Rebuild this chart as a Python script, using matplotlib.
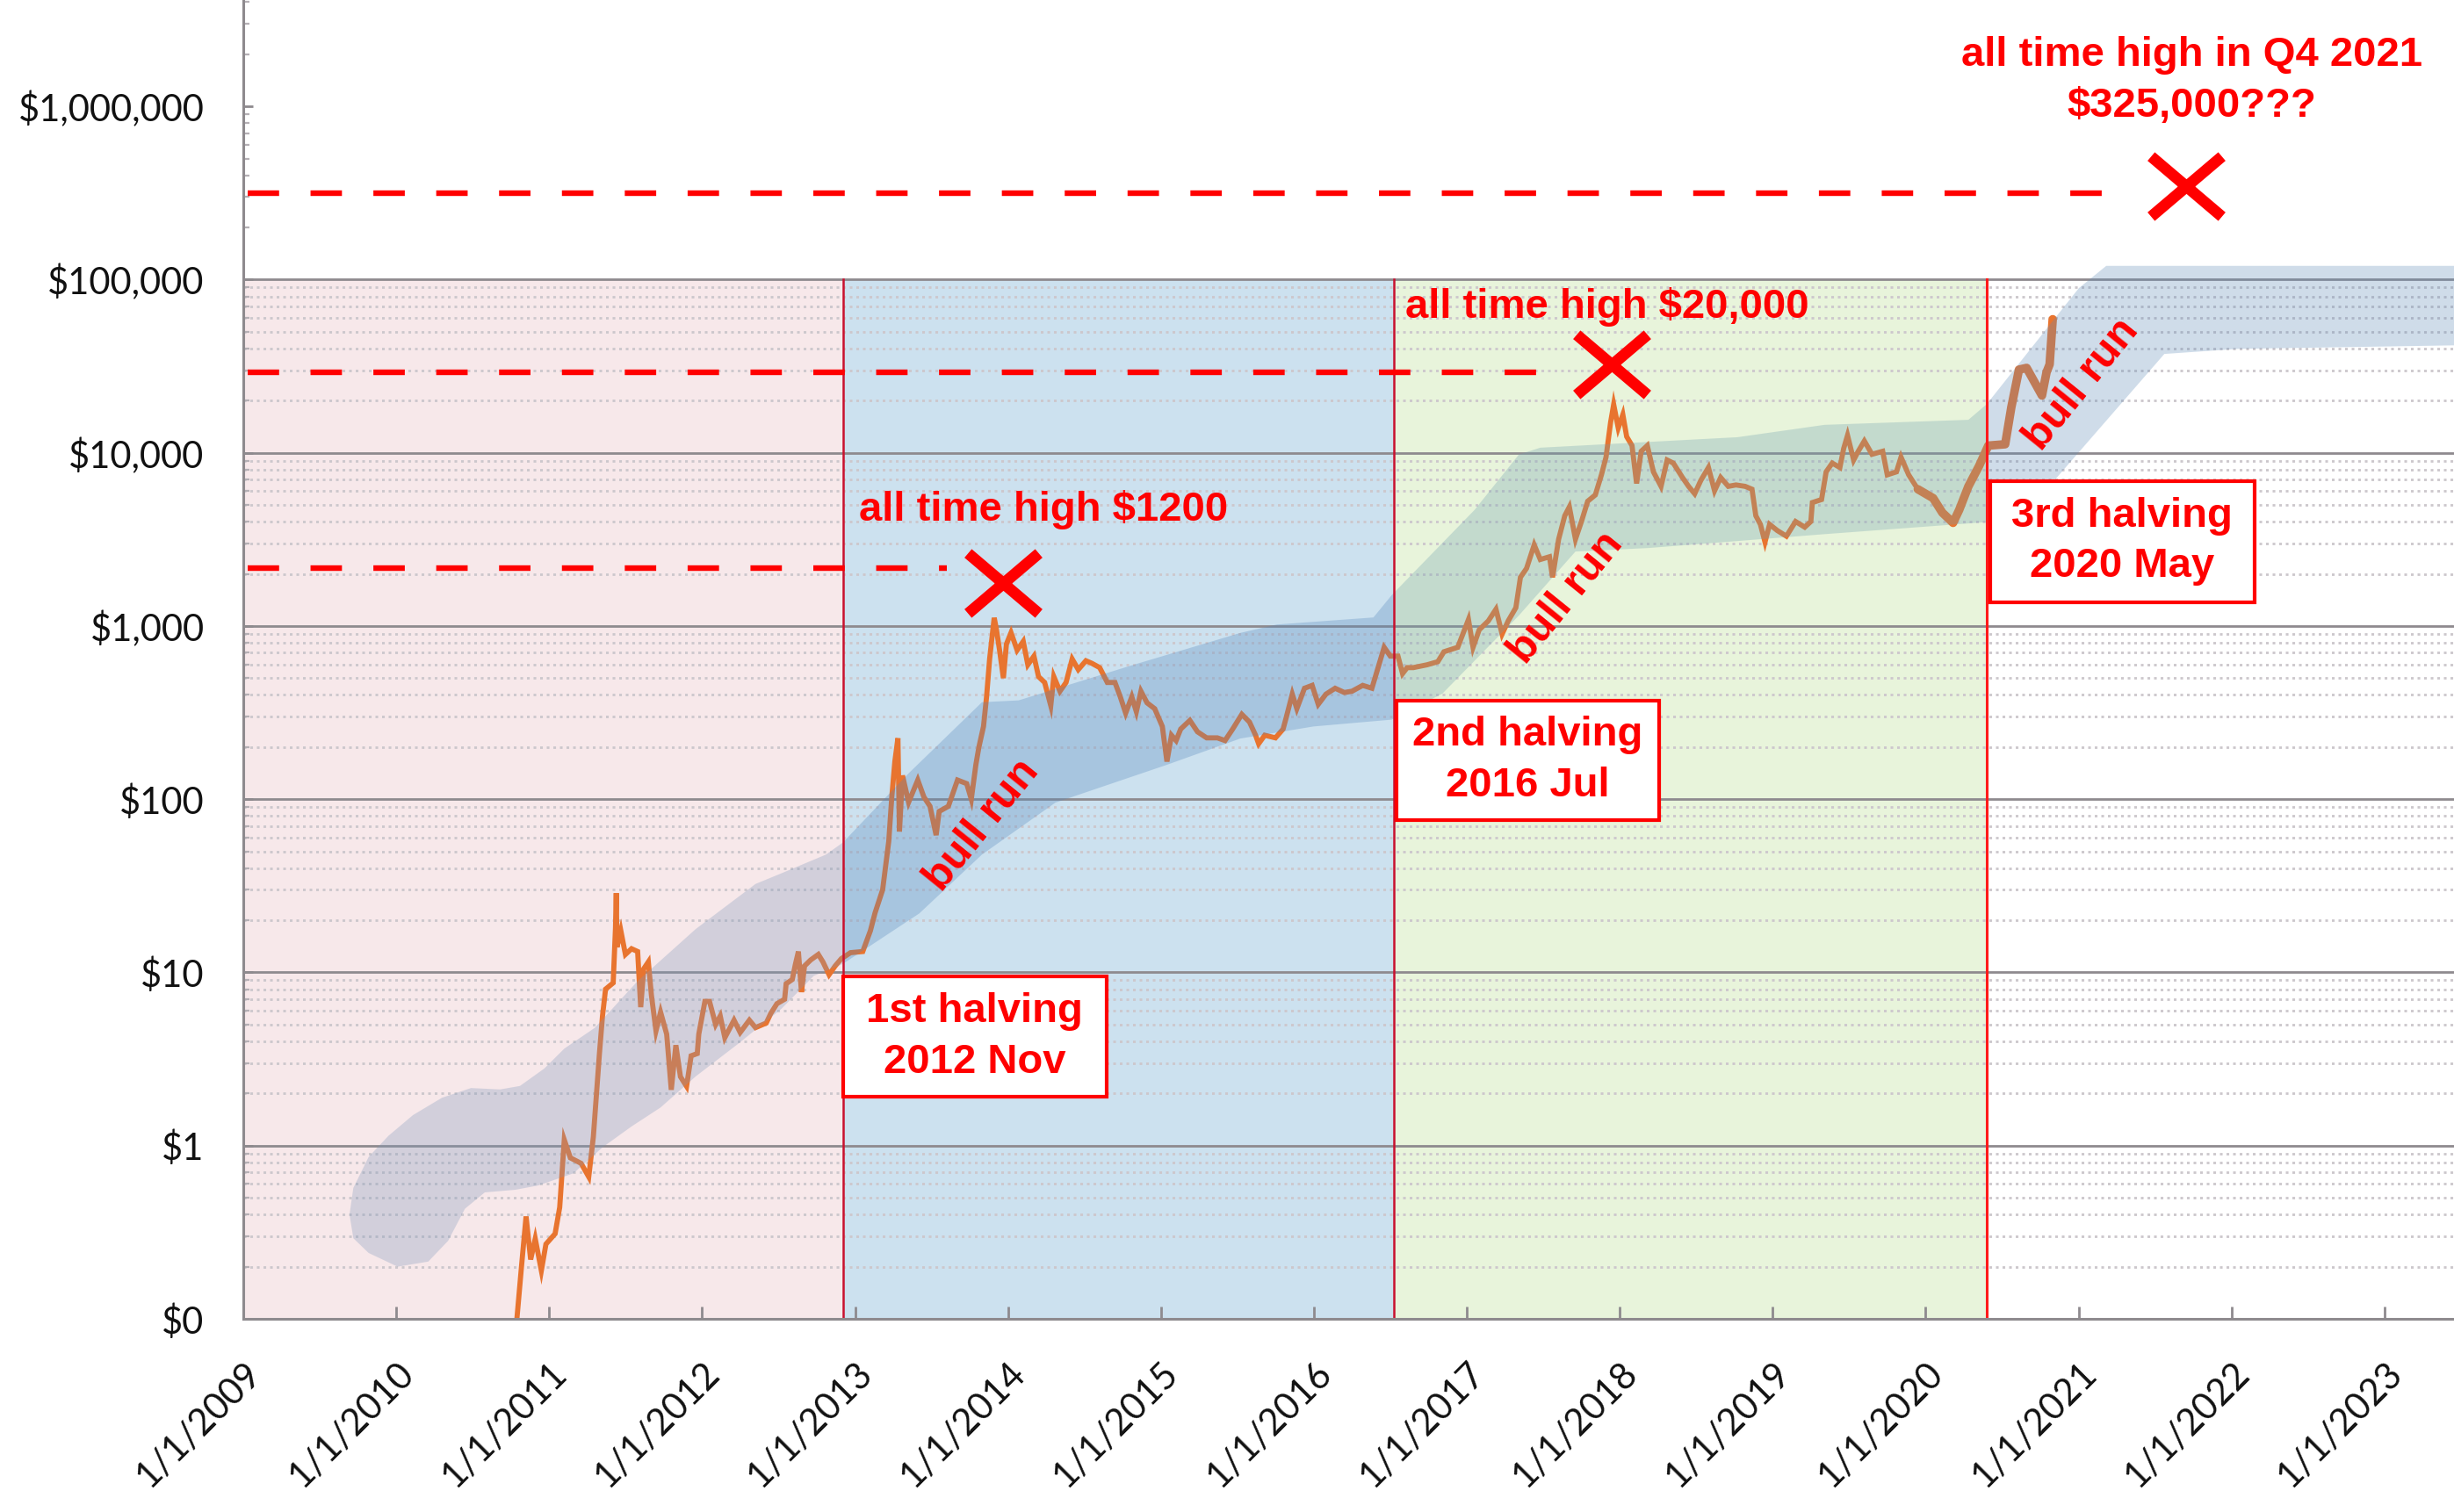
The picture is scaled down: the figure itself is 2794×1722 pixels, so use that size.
import datetime as dt
import numpy as np
import matplotlib
matplotlib.use("Agg")
import matplotlib.pyplot as plt
import matplotlib.dates as mdates
from matplotlib.patches import Rectangle
from matplotlib.path import Path
from matplotlib.ticker import LogLocator, NullFormatter

# ---------------- data ----------------
price_t = [2010.79, 2010.82, 2010.85, 2010.88, 2010.91, 2010.95, 2010.98, 2011.04, 2011.07, 2011.10,
           2011.14, 2011.21, 2011.26, 2011.29, 2011.33, 2011.35, 2011.37, 2011.42, 2011.435, 2011.44,
           2011.445, 2011.47, 2011.50, 2011.54, 2011.58, 2011.60, 2011.62, 2011.65, 2011.67, 2011.70,
           2011.73, 2011.77, 2011.80, 2011.83, 2011.86, 2011.90, 2011.93, 2011.97, 2011.98, 2012.02,
           2012.05, 2012.09, 2012.12, 2012.15, 2012.21, 2012.25, 2012.31, 2012.35, 2012.42, 2012.45,
           2012.49, 2012.54, 2012.55, 2012.59, 2012.61, 2012.63, 2012.65, 2012.67, 2012.71, 2012.76,
           2012.79, 2012.83, 2012.87, 2012.91, 2012.97, 2013.05, 2013.10, 2013.13, 2013.18, 2013.22,
           2013.24, 2013.26, 2013.28, 2013.29, 2013.31, 2013.35, 2013.41, 2013.45, 2013.49, 2013.53,
           2013.55, 2013.61, 2013.67, 2013.73, 2013.76, 2013.79, 2013.81, 2013.84, 2013.86, 2013.88,
           2013.91, 2013.925, 2013.945, 2013.97, 2013.99, 2014.02, 2014.06, 2014.10, 2014.13, 2014.17,
           2014.20, 2014.24, 2014.28, 2014.30, 2014.34, 2014.38, 2014.42, 2014.46, 2014.51, 2014.55,
           2014.60, 2014.65, 2014.70, 2014.735, 2014.77, 2014.81, 2014.84, 2014.87, 2014.91, 2014.96,
           2015.01, 2015.04, 2015.07, 2015.10, 2015.13, 2015.19, 2015.24, 2015.30, 2015.37, 2015.42,
           2015.47, 2015.53, 2015.58, 2015.62, 2015.64, 2015.68, 2015.75, 2015.80, 2015.82, 2015.86,
           2015.89, 2015.94, 2015.99, 2016.03, 2016.08, 2016.14, 2016.20, 2016.25, 2016.32, 2016.38,
           2016.415, 2016.46, 2016.50, 2016.55, 2016.58, 2016.61, 2016.65, 2016.74, 2016.81, 2016.85,
           2016.94, 2017.01, 2017.04, 2017.08, 2017.14, 2017.19, 2017.23, 2017.27, 2017.32, 2017.35,
           2017.39, 2017.44, 2017.48, 2017.54, 2017.56, 2017.60, 2017.64, 2017.67, 2017.71, 2017.75,
           2017.79, 2017.84, 2017.88, 2017.91, 2017.94, 2017.96, 2017.99, 2018.02, 2018.045, 2018.08,
           2018.11, 2018.14, 2018.18, 2018.22, 2018.27, 2018.31, 2018.35, 2018.41, 2018.45, 2018.49,
           2018.53, 2018.58, 2018.62, 2018.66, 2018.71, 2018.76, 2018.82, 2018.865, 2018.89, 2018.92,
           2018.95, 2018.98, 2019.03, 2019.09, 2019.15, 2019.21, 2019.25, 2019.26, 2019.32, 2019.35,
           2019.39, 2019.44, 2019.465, 2019.49, 2019.53, 2019.56, 2019.60, 2019.65, 2019.72, 2019.75,
           2019.81, 2019.84, 2019.89, 2019.95, 2020.05, 2020.11, 2020.18, 2020.22, 2020.28, 2020.35,
           2020.41, 2020.52, 2020.56, 2020.61, 2020.66, 2020.76, 2020.79, 2020.81, 2020.83]
price_usd = [0.10, 0.20, 0.39, 0.22, 0.29, 0.19, 0.27, 0.31, 0.44, 1.08,
             0.85, 0.79, 0.66, 1.12, 3.4, 5.6, 8.0, 8.7, 18, 28.7,
             14, 17.4, 12.7, 13.7, 13.2, 6.3, 10.5, 11.5, 7.4, 4.6,
             5.9, 4.4, 2.1, 3.8, 2.5, 2.2, 3.3, 3.4, 4.4, 6.8,
             6.8, 5.0, 5.6, 4.2, 5.3, 4.5, 5.3, 4.8, 5.1, 5.8,
             6.6, 7.0, 8.6, 9.1, 11.1, 13.2, 7.7, 10.9, 11.8, 12.7,
             11.5, 9.7, 10.9, 12.0, 13.0, 13.2, 17.4, 22, 30, 57,
             103, 165, 225, 65, 137, 96, 129, 103, 91, 62,
             85, 91, 129, 123, 100, 158, 200, 263, 390, 645,
             1115, 950, 725, 500, 787, 915, 725, 815, 597, 670,
             510, 472, 347, 510, 420, 472, 645, 560, 630, 608,
             575, 472, 472, 390, 314, 390, 320, 420, 360, 333,
             263, 165, 234, 218, 254, 285, 245, 226, 226, 218,
             254, 309, 279, 234, 209, 234, 226, 254, 295, 404,
             333, 437, 454, 353, 404, 437, 413, 420, 454, 437,
             555, 753, 670, 670, 531, 575, 575, 597, 622, 710,
             753, 1090, 753, 950, 1070, 1250, 898, 1070, 1275, 1910,
             2150, 2940, 2420, 2510, 1910, 3170, 4330, 4870, 3170, 4030,
             5250, 5710, 7460, 9440, 15000, 19000, 13900, 16600, 12400, 11000,
             6650, 10200, 11000, 7760, 6400, 9080, 8720, 7200, 6400, 5800,
             6920, 8220, 6030, 7200, 6400, 6520, 6400, 6160, 4330, 3860,
             3050, 3860, 3560, 3300, 4010, 3720, 4010, 5160, 5370, 7760,
             8720, 8220, 10600, 12600, 9080, 10200, 11700, 9800, 10200, 7460,
             7760, 9440, 7460, 6160, 5470, 4510, 3940, 4680, 6400, 8400,
             11000, 11200, 18300, 30200, 30900, 21400, 29200, 32400, 59000]

band_upper_t = [2009.695, 2009.72, 2009.82, 2009.95, 2010.11, 2010.30, 2010.49, 2010.68, 2010.81, 2010.97,
                2011.10, 2011.30, 2011.58, 2011.96, 2012.35, 2012.54, 2012.81, 2012.92, 2013.35, 2013.83,
                2014.07, 2014.80, 2015.52, 2015.76, 2016.39, 2016.51, 2017.05, 2017.34, 2017.48, 2018.77,
                2019.34, 2020.28, 2020.40, 2021.00, 2021.18, 2023.46]
band_upper_usd = [0.40, 0.57, 0.86, 1.14, 1.50, 1.89, 2.15, 2.11, 2.21, 2.79,
                  3.63, 4.79, 8.91, 17.8, 32.4, 38.0, 47.9, 56.2, 141, 363,
                  372, 589, 912, 1020, 1120, 1510, 4680, 9770, 10700, 12300,
                  14500, 15500, 19100, 89100, 120000, 120000]
band_lower_t = [2009.695, 2009.72, 2009.82, 2010.01, 2010.21, 2010.34, 2010.45, 2010.58, 2010.78, 2010.93,
                2011.16, 2011.35, 2011.54, 2011.73, 2011.96, 2012.24, 2012.52, 2012.73, 2012.92, 2013.42,
                2013.83, 2014.31, 2015.04, 2015.52, 2016.00, 2016.51, 2016.84, 2017.34, 2017.71, 2018.19,
                2019.34, 2020.40, 2020.85, 2021.56, 2022.04, 2023.46]
band_lower_usd = [0.40, 0.292, 0.240, 0.200, 0.214, 0.282, 0.432, 0.537, 0.556, 0.589,
                  0.692, 0.977, 1.29, 1.66, 2.51, 3.89, 6.17, 9.55, 11.2, 21.9,
                  47.9, 95.5, 158, 224, 263, 288, 407, 1150, 2690, 2820,
                  3390, 3980, 7080, 37200, 39800, 41700]

halving_t = [2012.924, 2016.524, 2020.40]
halving_labels = ["1st halving\n2012 Nov", "2nd halving\n2016 Jul", "3rd halving\n2020 May"]

ath_level_usd = [2160, 29200, 315000]
ath_line_end_t = [2013.60, 2017.617, 2021.165]
ath_mark_t = [2013.97, 2017.947, 2021.70]
ath_mark_usd = [1780, 32500, 347000]

x_tick_years = list(range(2009, 2024))
x_tick_labels = ["1/1/%d" % y for y in x_tick_years]
y_tick_values = [0.1, 1, 10, 100, 1000, 10000, 100000, 1000000]
y_tick_labels = ["$0", "$1", "$10", "$100", "$1,000", "$10,000", "$100,000", "$1,000,000"]


def to_date(t):
    y = int(np.floor(t))
    a = dt.datetime(y, 1, 1)
    b = dt.datetime(y + 1, 1, 1)
    return a + (b - a) * (t - y)


# ---------------- figure ----------------
W, H, DPI = 2794, 1722, 200
fig = plt.figure(figsize=(W / DPI, H / DPI), dpi=DPI)
ax = fig.add_axes([277 / W, 220 / H, 1 - 277 / W, 1502 / H])
ax.set_yscale("log")

x_left, x_right = 2009.0, 2023.455
grey = "#8E8A8E"
red = "#FF0000"

# era backgrounds
era_edges = [x_left] + halving_t
era_colors = ["#F7E8EA", "#CCE1EF", "#E8F4DB"]
for i, c in enumerate(era_colors):
    ax.fill_between([to_date(era_edges[i]), to_date(era_edges[i + 1])], 0.1, 1e5,
                    color=c, lw=0, zorder=0)

# gridlines (only up to $100,000)
xg = [to_date(x_left), to_date(x_right)]
for k in range(-1, 5):
    for m in range(2, 10):
        ax.plot(xg, [m * 10.0 ** k] * 2, color="#CCC7CC", lw=1.0,
                ls=(0, (1.1, 1.6)), zorder=1)
for k in range(0, 6):
    ax.plot(xg, [10.0 ** k] * 2, color=grey, lw=1.0, zorder=1.2)

# price line
dates = [to_date(t) for t in price_t]
split = next(i for i, t in enumerate(price_t) if t >= 2019.95)
ax.plot(dates[:split + 1], price_usd[:split + 1], color="#E8742F", lw=2.1, zorder=2,
        solid_joinstyle="miter")
ax.plot(dates[split:], price_usd[split:], color="#E8742F", lw=3.5, zorder=2,
        solid_joinstyle="round", solid_capstyle="round")

# band overlay (translucent, tinted per era)
poly_d = [to_date(t) for t in band_upper_t + band_lower_t[::-1]]
poly_v = band_upper_usd + band_lower_usd[::-1]
band_colors = [(127, 152, 187), (84, 134, 188), (112, 161, 175), (98, 142, 185)]
clip_edges = era_edges + [2023.6]
for i, c in enumerate(band_colors):
    patch = ax.fill(poly_d, poly_v, color=np.array(c) / 255.0, alpha=0.3, lw=0, zorder=3)[0]
    x0 = mdates.date2num(to_date(clip_edges[i]))
    x1 = mdates.date2num(to_date(clip_edges[i + 1]))
    rect = Rectangle((x0, 0.01), x1 - x0, 1e9, transform=ax.transData)
    patch.set_clip_path(rect)

# halving lines
for i, h in enumerate(halving_t):
    ax.plot([to_date(h)] * 2, [0.1, 1e5], color="#C8102E" if i < 2 else "#FF1A1A",
            lw=0.9 if i < 2 else 1.1, zorder=4)

# ATH dashed lines and X marks
for lvl, end in zip(ath_level_usd, ath_line_end_t):
    ax.plot([to_date(2009.03), to_date(end)], [lvl, lvl], color=red, lw=2.3,
            ls=(0, (5.6, 5.6)), solid_capstyle="butt", dash_capstyle="butt", zorder=5)
xmark = Path([(-1, -0.85), (1, 0.85), (-1, 0.85), (1, -0.85)],
             [Path.MOVETO, Path.LINETO, Path.MOVETO, Path.LINETO])
ax.plot([to_date(t) for t in ath_mark_t], ath_mark_usd, ls="none", marker=xmark,
        ms=29, mew=4.6, mec=red, mfc="none", zorder=6)

# annotations
fnt = dict(family="Liberation Sans", weight="bold", color=red, fontsize=17)
ax.text(to_date(2013.028), 4690, "all time high $1200", ha="left", va="center", zorder=7, **fnt)
ax.text(to_date(2016.595), 69300, "all time high $20,000", ha="left", va="center", zorder=7, **fnt)
ax.text(to_date(2021.74), 1.406e6, "all time high in Q4 2021\n$325,000???", ha="center",
        va="center", multialignment="center", linespacing=1.4, zorder=7, **fnt)
for t, v in [(2013.83, 70.3), (2017.65, 1460), (2021.02, 24700)]:
    ax.text(to_date(t), v, "bull run", rotation=51, rotation_mode="anchor", ha="center",
            va="center", zorder=7, family="Liberation Sans", weight="bold", color=red,
            fontsize=17.5)

# halving boxes
boxes = [(2012.924, 2014.643, 1.91, 9.46), (2016.54, 2018.26, 75.4, 372),
         (2020.42, 2022.15, 1377, 6890)]
for (t0, t1, v0, v1), lab in zip(boxes, halving_labels):
    d0 = mdates.date2num(to_date(t0))
    d1 = mdates.date2num(to_date(t1))
    ax.add_patch(Rectangle((d0, v0), d1 - d0, v1 - v0, fc="white", ec=red, lw=1.5, zorder=6))
    ax.text(mdates.num2date((d0 + d1) / 2), np.sqrt(v0 * v1), lab, ha="center", va="center",
            multialignment="center", linespacing=1.4, zorder=7, **fnt)

# axes, ticks
ax.set_xlim(to_date(x_left), to_date(x_right))
ax.set_ylim(0.1, 10 ** 6.614)
for s in ("top", "right"):
    ax.spines[s].set_visible(False)
for s in ("left", "bottom"):
    ax.spines[s].set_color(grey)
    ax.spines[s].set_linewidth(1.1)
    ax.spines[s].set_zorder(8)

ax.set_xticks([to_date(y) for y in x_tick_years])
ax.set_xticklabels(x_tick_labels, rotation=45, ha="right", va="top", rotation_mode="anchor",
                   fontsize=15, family="Lato", color="#111111")
ax.tick_params(axis="x", direction="in", length=5, width=1.0, color=grey, pad=15)

ax.set_yticks(y_tick_values)
ax.set_yticklabels(y_tick_labels, fontsize=15, family="Lato", color="#111111")
ax.yaxis.set_minor_locator(LogLocator(base=10, subs=range(2, 10), numticks=30))
ax.yaxis.set_minor_formatter(NullFormatter())
ax.tick_params(axis="y", which="major", direction="in", length=4, width=1.0, color=grey, pad=16)
ax.tick_params(axis="y", which="minor", direction="in", length=2.5, width=0.8, color="#B5B0B5")

fig.savefig("out.png", dpi=DPI)
